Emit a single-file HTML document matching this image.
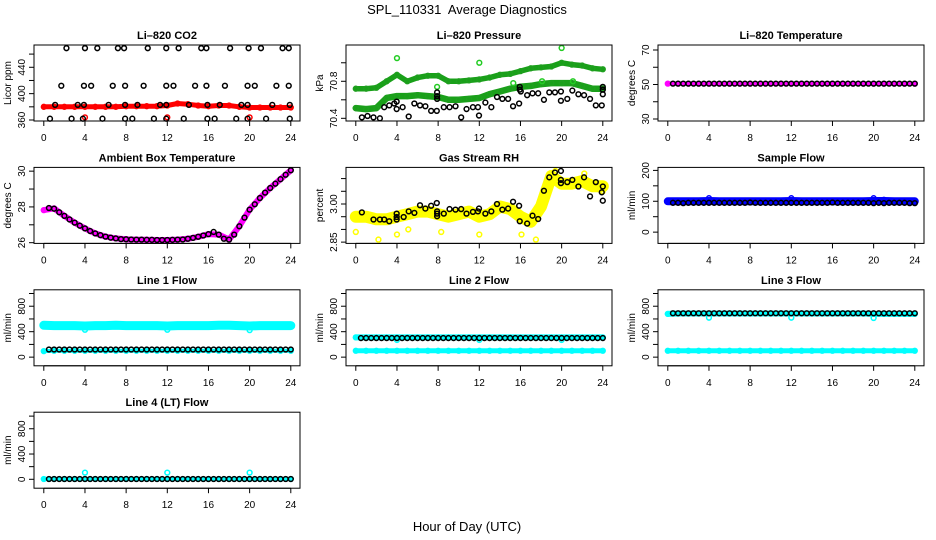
<!DOCTYPE html>
<html><head><meta charset="utf-8"><style>
html,body{margin:0;padding:0;background:#fff;}
svg{display:block;font-family:"Liberation Sans",Arial,sans-serif;}
</style></head><body>
<svg id="chart" width="936" height="540" viewBox="0 0 936 540" xmlns="http://www.w3.org/2000/svg">
<text x="467" y="14" text-anchor="middle" font-size="13">SPL_110331&#160; Average Diagnostics</text>
<text x="467" y="531" text-anchor="middle" font-size="13">Hour of Day (UTC)</text>
</svg>
<script>
// ---- shared hour categories ----
const hourly = [0,1,2,3,4,5,6,7,8,9,10,11,12,13,14,15,16,17,18,19,20,21,22,23,24];
const halfHours = [0.5,1,1.5,2,2.5,3,3.5,4,4.5,5,5.5,6,6.5,7,7.5,8,8.5,9,9.5,10,10.5,11,11.5,12,12.5,13,13.5,14,14.5,15,15.5,16,16.5,17,17.5,18,18.5,19,19.5,20,20.5,21,21.5,22,22.5,23,23.5,24];
const xTickLabels = [0,4,8,12,16,20,24];

// ---- CO2 ----
const co2Red = [380,380,380,380,380,380,380,380,381,381,381,381,382,385,384,382,381,382,382,380,379,379,379,379,379];
const co2RedOutHours = [4,12,20];
const co2RedOutVals = [364,364,364];
const co2BlackHours = [2.2,4.0,5.2,7.2,7.8,10.1,11.9,13.1,15.3,15.8,18.1,19.9,21.1,23.2,23.8,
 1.7,3.9,4.6,6.7,7.9,9.7,11.9,12.6,14.7,15.8,17.6,19.8,20.5,22.6,23.8,
 1.1,3.3,3.9,6.3,7.9,9.1,11.3,11.9,14.1,15.9,17.1,19.2,19.8,22.2,23.9,
 0.6,2.7,3.8,5.7,7.9,8.6,10.7,11.9,13.6,15.9,16.6,18.7,19.8,21.6,23.9];
const co2BlackVals = [469,469,469,469,469,469,469,469,469,469,469,469,469,469,469,
 412,412,412,412,412,412,412,412,412,412,412,412,412,412,412,
 383,383,383,383,383,383,383,383,383,383,383,383,383,383,383,
 362,362,362,362,362,362,362,362,362,362,362,362,362,362,362];

// ---- Pressure ----
const presUpper = [70.72,70.72,70.73,70.80,70.87,70.80,70.84,70.86,70.86,70.80,70.80,70.81,70.82,70.84,70.87,70.88,70.91,70.94,70.95,70.96,71.00,70.98,70.97,70.94,70.93];
const presLower = [70.51,70.50,70.51,70.62,70.64,70.64,70.65,70.64,70.63,70.60,70.60,70.61,70.62,70.66,70.69,70.72,70.74,70.75,70.77,70.78,70.78,70.78,70.75,70.72,70.72];
const presOutHours = [4,12,20,7.9,15.3,18.1,21.1];
const presOutVals = [71.05,71.00,71.16,70.74,70.78,70.80,70.80];
const presBlackHours = [0.59,1.14,1.72,2.34,2.76,3.25,3.74,3.97,3.97,4.55,5.14,5.69,6.24,6.76,7.32,7.87,7.9,7.9,7.9,8.55,9.11,9.69,10.24,10.76,11.38,11.87,11.97,12.59,13.17,13.72,14.24,14.8,15.28,15.87,15.93,15.93,16.03,16.65,17.17,17.72,18.28,18.8,19.35,19.93,19.93,20.55,21.04,21.63,22.18,22.76,23.32,23.9,24.0,24.0,24.0];
const presBlackVals = [70.41,70.425,70.41,70.40,70.52,70.54,70.56,70.58,70.50,70.52,70.42,70.56,70.54,70.53,70.48,70.48,70.68,70.64,70.61,70.52,70.52,70.53,70.41,70.50,70.52,70.52,70.43,70.57,70.52,70.63,70.61,70.61,70.53,70.56,70.74,70.71,70.69,70.65,70.67,70.67,70.60,70.68,70.68,70.59,70.69,70.61,70.70,70.66,70.65,70.61,70.54,70.54,70.74,70.71,70.66];

// ---- Li-820 Temperature ----
const tempMag = [50.5,50.5,50.5,50.5,50.5,50.5,50.5,50.5,50.5,50.5,50.5,50.5,50.5,50.5,50.5,50.5,50.5,50.5,50.5,50.5,50.5,50.5,50.5,50.5,50.5];
const tempBlack = [50.5,50.5,50.5,50.5,50.5,50.5,50.5,50.5,50.5,50.5,50.5,50.5,50.5,50.5,50.5,50.5,50.5,50.5,50.5,50.5,50.5,50.5,50.5,50.5,50.5,50.5,50.5,50.5,50.5,50.5,50.5,50.5,50.5,50.5,50.5,50.5,50.5,50.5,50.5,50.5,50.5,50.5,50.5,50.5,50.5,50.5,50.5,50.5];

// ---- Ambient Box Temperature ----
const ambMag = [27.82,27.92,27.5,27.12,26.8,26.52,26.34,26.24,26.19,26.17,26.16,26.15,26.15,26.17,26.22,26.33,26.48,26.45,26.17,26.92,27.85,28.5,29.06,29.55,30.05];
const ambBlack = [27.94,27.9,27.7,27.5,27.3,27.12,26.95,26.8,26.65,26.52,26.42,26.34,26.28,26.24,26.2,26.19,26.18,26.17,26.17,26.16,26.16,26.15,26.15,26.15,26.16,26.17,26.18,26.22,26.27,26.33,26.4,26.48,26.6,26.45,26.22,26.17,26.45,26.92,27.4,27.85,28.15,28.5,28.8,29.06,29.3,29.55,29.8,30.05];

// ---- Gas Stream RH ----
const rhYellow = [2.95,2.95,2.94,2.94,2.95,2.96,2.97,2.97,2.96,2.95,2.96,2.97,2.95,2.96,2.99,2.98,2.95,2.93,2.99,3.11,3.08,3.08,3.09,3.07,3.07];
const rhOutHours = [0,2.2,4,5.1,8.3,12,16.1,17.5,24,19.4,22.2];
const rhOutVals = [2.89,2.86,2.88,2.90,2.89,2.88,2.88,2.86,3.05,3.13,3.12];
const rhBlackHours = [0.59,1.72,2.34,2.76,3.25,3.97,3.97,3.97,4.65,5.14,5.69,6.24,6.76,7.32,7.87,7.9,7.9,7.9,8.55,9.11,9.69,10.24,10.76,11.38,11.87,11.97,12.59,13.17,13.72,14.24,14.8,15.28,15.87,15.93,16.65,17.17,17.72,18.28,18.8,19.35,19.93,19.93,19.93,20.55,21.04,21.63,22.18,22.76,23.32,23.9,24.0,24.0];
const rhBlackVals = [2.967,2.939,2.939,2.939,2.932,2.962,2.949,2.939,2.949,2.971,2.965,2.995,2.982,2.993,3.004,2.971,2.962,2.952,2.962,2.980,2.978,2.980,2.962,2.969,2.971,2.982,2.962,2.971,3.0,2.978,2.982,3.009,2.993,2.932,2.923,2.954,2.941,3.052,3.105,3.124,3.130,3.095,3.082,3.086,3.095,3.069,3.105,3.03,3.086,3.046,3.069,3.013];

// ---- Sample Flow ----
const sampleBlue = [100,100,100,100,101,100,100,100,100,100,100,100,101,100,100,100,100,100,100,100,101,101,100,100,100];
const sampleOutHours = [4,12,20,21];
const sampleOutVals = [110,110,110,105];
const sampleBlack = [95,95,94,95,95,95,95,95,95,95,95,95,95,95,95,96,95,95,95,95,95,95,95,95,95,95,95,95,95,95,95,96,95,95,95,95,95,95,95,94,95,94,95,95,95,95,94,94];

// ---- Line flows ----
const line1Upper = [500,495,495,495,490,495,495,500,495,495,495,495,490,495,495,495,495,500,500,495,490,495,495,495,495];
const line1Lower = [95,100,100,100,100,100,100,100,100,100,100,100,100,100,100,100,100,100,100,100,100,100,100,100,100];
const line1OutHours = [4,12,20];
const line1OutVals = [430,430,425];
const line1Black = [120,120,120,120,120,120,120,120,120,120,120,120,120,120,120,120,120,120,120,120,120,120,120,120,120,120,120,120,120,120,120,120,120,120,120,120,120,120,120,120,120,120,120,120,120,120,120,120];
const line2Upper = [310,310,310,310,310,310,310,310,310,310,310,310,310,310,310,310,310,310,310,310,310,310,310,310,310];
const line2Lower = [100,100,100,100,100,100,100,100,100,100,100,100,100,100,100,100,100,100,100,100,100,100,100,100,100];
const line2OutHours = [4,12,20];
const line2OutVals = [270,270,270];
const line2Black = [300,300,300,300,300,300,300,300,300,300,300,300,300,300,300,300,300,300,300,300,300,300,300,300,300,300,300,300,300,300,300,300,300,300,300,300,300,300,300,300,300,300,300,300,300,300,300,300];
const line3Upper = [680,685,685,685,685,685,685,685,685,685,685,685,685,685,685,685,685,685,685,685,680,680,680,680,680];
const line3Lower = [100,100,100,100,100,100,100,100,100,100,100,100,100,100,100,100,100,100,100,100,100,100,100,100,100];
const line3OutHours = [4,12,20];
const line3OutVals = [620,620,615];
const line3Black = [690,690,690,690,690,690,690,690,690,690,690,690,690,690,690,690,690,690,690,690,690,690,690,690,690,690,690,690,690,690,690,690,690,690,690,690,690,690,690,690,690,690,690,690,690,690,690,690];
const line4Cyan = [5,5,5,5,5,5,5,5,5,5,5,5,5,5,5,5,5,5,5,5,5,5,5,5,5];
const line4OutHours = [4,12,20];
const line4OutVals = [105,105,105];
const line4Black = [5,5,5,5,5,5,5,5,5,5,5,5,5,5,5,5,5,5,5,5,5,5,5,5,5,5,5,5,5,5,5,5,5,5,5,5,5,5,5,5,5,5,5,5,5,5,5,5];

const NS = 'http://www.w3.org/2000/svg';
const svg = document.getElementById('chart');
function mk(tag, attrs, parent) {
  const e = document.createElementNS(NS, tag);
  for (const k in attrs) e.setAttribute(k, attrs[k]);
  (parent || svg).appendChild(e);
  return e;
}

function panel(cfg) {
  const L = 34 + cfg.col * 312, T = 45 + cfg.row * 122.4, W = 266, H = 76;
  const g = mk('g', {});
  
  
  const xs = h => L + 9.8 + h * 247 / 24;
  const ys = v => T + (cfg.hi - v) / (cfg.hi - cfg.lo) * H;
  const t = mk('text', {x: L + W / 2, y: T - 6, 'text-anchor': 'middle', 'font-size': 11, 'font-weight': 'bold'}, g);
  t.textContent = cfg.title;
  
  
  const yl = mk('text', {x: 0, y: 0, 'text-anchor': 'middle', 'font-size': 10, transform: `translate(${L - 23},${T + H / 2}) rotate(-90)`}, g);
  yl.textContent = cfg.ylabel;
  
  
  const xa = mk('g', {}, g);
  
  
  mk('line', {x1: xs(0), x2: xs(24), y1: T + H, y2: T + H, stroke: '#000'}, xa);
  xTickLabels.forEach(v => {
    mk('line', {x1: xs(v), x2: xs(v), y1: T + H, y2: T + H + 5, stroke: '#000'}, xa);
    const tl = mk('text', {x: xs(v), y: T + H + 20, 'text-anchor': 'middle', 'font-size': 10}, xa);
    tl.textContent = v;
    
    
  });
  const ya = mk('g', {}, g);
  
  
  cfg.yticks.forEach(v => {
    mk('line', {x1: L - 5, x2: L, y1: ys(v), y2: ys(v), stroke: '#000'}, ya);
    if (cfg.ylabels.includes(v)) {
      const tl = mk('text', {x: 0, y: 0, 'text-anchor': 'middle', 'font-size': 10, transform: `translate(${L - 9},${ys(v)}) rotate(-90)`}, ya);
      tl.textContent = cfg.fmt ? cfg.fmt(v) : v;
      
      
    }
  });
  mk('line', {x1: L, x2: L, y1: ys(cfg.yticks[0]), y2: ys(cfg.yticks[cfg.yticks.length - 1]), stroke: '#000'}, ya);
  const clip = mk('g', {}, g);
  cfg.series.forEach(s => {
    const sg = mk('g', {}, clip);
    
    
    if (s.band) {
      const pts = s.hours.map((h, i) => xs(h).toFixed(1) + ',' + ys(s.vals[i]).toFixed(1)).join(' ');
      mk('polyline', {points: pts, fill: 'none', stroke: s.bandColor || s.color, 'stroke-width': s.band, 'stroke-linejoin': 'round', 'stroke-linecap': 'round'}, sg);
    }
    s.hours.forEach((h, i) => {
      const c = mk('circle', {cx: xs(h), cy: ys(s.vals[i]), r: 2.4, fill: 'none', stroke: s.color, 'stroke-width': 1.5}, sg);
      
      
    });
  });
  const b = mk('rect', {x: L, y: T, width: W, height: H, fill: 'none', stroke: '#000', 'stroke-width': 1}, g);
  
  
}

panel({name:'panel-co2', col:0, row:0, title:'Li\u2013820 CO2', ylabel:'Licor ppm', lo:358.5, hi:473.8,
  yticks:[360,380,400,420,440,460], ylabels:[360,400,440], series:[
  {name:'co2-red-series', color:'#ff0000', hours:hourly, vals:co2Red, band:5},
  {name:'co2-red-outliers', color:'#ff0000', hours:co2RedOutHours, vals:co2RedOutVals},
  {name:'co2-black-series', color:'#000', hours:co2BlackHours, vals:co2BlackVals}]});
panel({name:'panel-pressure', col:1, row:0, title:'Li\u2013820 Pressure', ylabel:'kPa', lo:70.371, hi:71.192,
  yticks:[70.4,70.6,70.8,71.0], ylabels:[70.4,70.8], fmt:v=>v.toFixed(1), series:[
  {name:'pressure-green-upper', color:'#1f9f1f', bandColor:'#19a019', hours:hourly, vals:presUpper, band:5.5},
  {name:'pressure-green-lower', color:'#1f9f1f', bandColor:'#19a019', hours:hourly, vals:presLower, band:6.5},
  {name:'pressure-green-outliers', color:'#22cc22', hours:presOutHours, vals:presOutVals},
  {name:'pressure-black-series', color:'#000', hours:presBlackHours, vals:presBlackVals}]});
panel({name:'panel-li820-temp', col:2, row:0, title:'Li\u2013820 Temperature', ylabel:'degrees C', lo:28.84, hi:72.9,
  yticks:[30,40,50,60,70], ylabels:[30,50,70], series:[
  {name:'temp-magenta-series', color:'#ff00ff', hours:hourly, vals:tempMag, band:4},
  {name:'temp-black-series', color:'#000', hours:halfHours, vals:tempBlack}]});
panel({name:'panel-ambient-temp', col:0, row:1, title:'Ambient Box Temperature', ylabel:'degrees C', lo:25.96, hi:30.21,
  yticks:[26,27,28,29,30], ylabels:[26,28,30], series:[
  {name:'ambient-magenta-series', color:'#ff00ff', hours:hourly, vals:ambMag, band:6},
  {name:'ambient-black-series', color:'#000', hours:halfHours, vals:ambBlack}]});
panel({name:'panel-gas-rh', col:1, row:1, title:'Gas Stream RH', ylabel:'percent', lo:2.845, hi:3.144,
  yticks:[2.85,2.9,2.95,3.0,3.05,3.1], ylabels:[2.85,3.0], fmt:v=>v.toFixed(2), series:[
  {name:'rh-yellow-series', color:'#ffff00', hours:hourly, vals:rhYellow, band:12},
  {name:'rh-yellow-outliers', color:'#ffff00', hours:rhOutHours, vals:rhOutVals},
  {name:'rh-black-series', color:'#000', hours:rhBlackHours, vals:rhBlackVals}]});
panel({name:'panel-sample-flow', col:2, row:1, title:'Sample Flow', ylabel:'ml/min', lo:-36.5, hi:209.7,
  yticks:[0,50,100,150,200], ylabels:[0,100,200], series:[
  {name:'sample-blue-series', color:'#0000ff', hours:hourly, vals:sampleBlue, band:8},
  {name:'sample-blue-outliers', color:'#0000ff', hours:sampleOutHours, vals:sampleOutVals},
  {name:'sample-black-series', color:'#000', hours:halfHours, vals:sampleBlack}]});
const flowTicks = [0,200,400,600,800,1000], flowLabels = [0,400,800];
panel({name:'panel-line1-flow', col:0, row:2, title:'Line 1 Flow', ylabel:'ml/min', lo:-136, hi:1058,
  yticks:flowTicks, ylabels:flowLabels, series:[
  {name:'line1-cyan-upper', color:'#00ffff', hours:hourly, vals:line1Upper, band:9},
  {name:'line1-cyan-lower', color:'#00ffff', hours:hourly, vals:line1Lower, band:4},
  {name:'line1-cyan-outliers', color:'#00ffff', hours:line1OutHours, vals:line1OutVals},
  {name:'line1-black-series', color:'#000', hours:halfHours, vals:line1Black}]});
panel({name:'panel-line2-flow', col:1, row:2, title:'Line 2 Flow', ylabel:'ml/min', lo:-136, hi:1058,
  yticks:flowTicks, ylabels:flowLabels, series:[
  {name:'line2-cyan-upper', color:'#00ffff', hours:hourly, vals:line2Upper, band:6},
  {name:'line2-cyan-lower', color:'#00ffff', hours:hourly, vals:line2Lower, band:5},
  {name:'line2-cyan-outliers', color:'#00ffff', hours:line2OutHours, vals:line2OutVals},
  {name:'line2-black-series', color:'#000', hours:halfHours, vals:line2Black}]});
panel({name:'panel-line3-flow', col:2, row:2, title:'Line 3 Flow', ylabel:'ml/min', lo:-136, hi:1058,
  yticks:flowTicks, ylabels:flowLabels, series:[
  {name:'line3-cyan-upper', color:'#00ffff', hours:hourly, vals:line3Upper, band:6},
  {name:'line3-cyan-lower', color:'#00ffff', hours:hourly, vals:line3Lower, band:5},
  {name:'line3-cyan-outliers', color:'#00ffff', hours:line3OutHours, vals:line3OutVals},
  {name:'line3-black-series', color:'#000', hours:halfHours, vals:line3Black}]});
panel({name:'panel-line4-flow', col:0, row:3, title:'Line 4 (LT) Flow', ylabel:'ml/min', lo:-141, hi:1062,
  yticks:flowTicks, ylabels:flowLabels, series:[
  {name:'line4-cyan-series', color:'#00ffff', hours:hourly, vals:line4Cyan, band:4},
  {name:'line4-cyan-outliers', color:'#00ffff', hours:line4OutHours, vals:line4OutVals},
  {name:'line4-black-series', color:'#000', hours:halfHours, vals:line4Black}]});
</script>
</body></html>
